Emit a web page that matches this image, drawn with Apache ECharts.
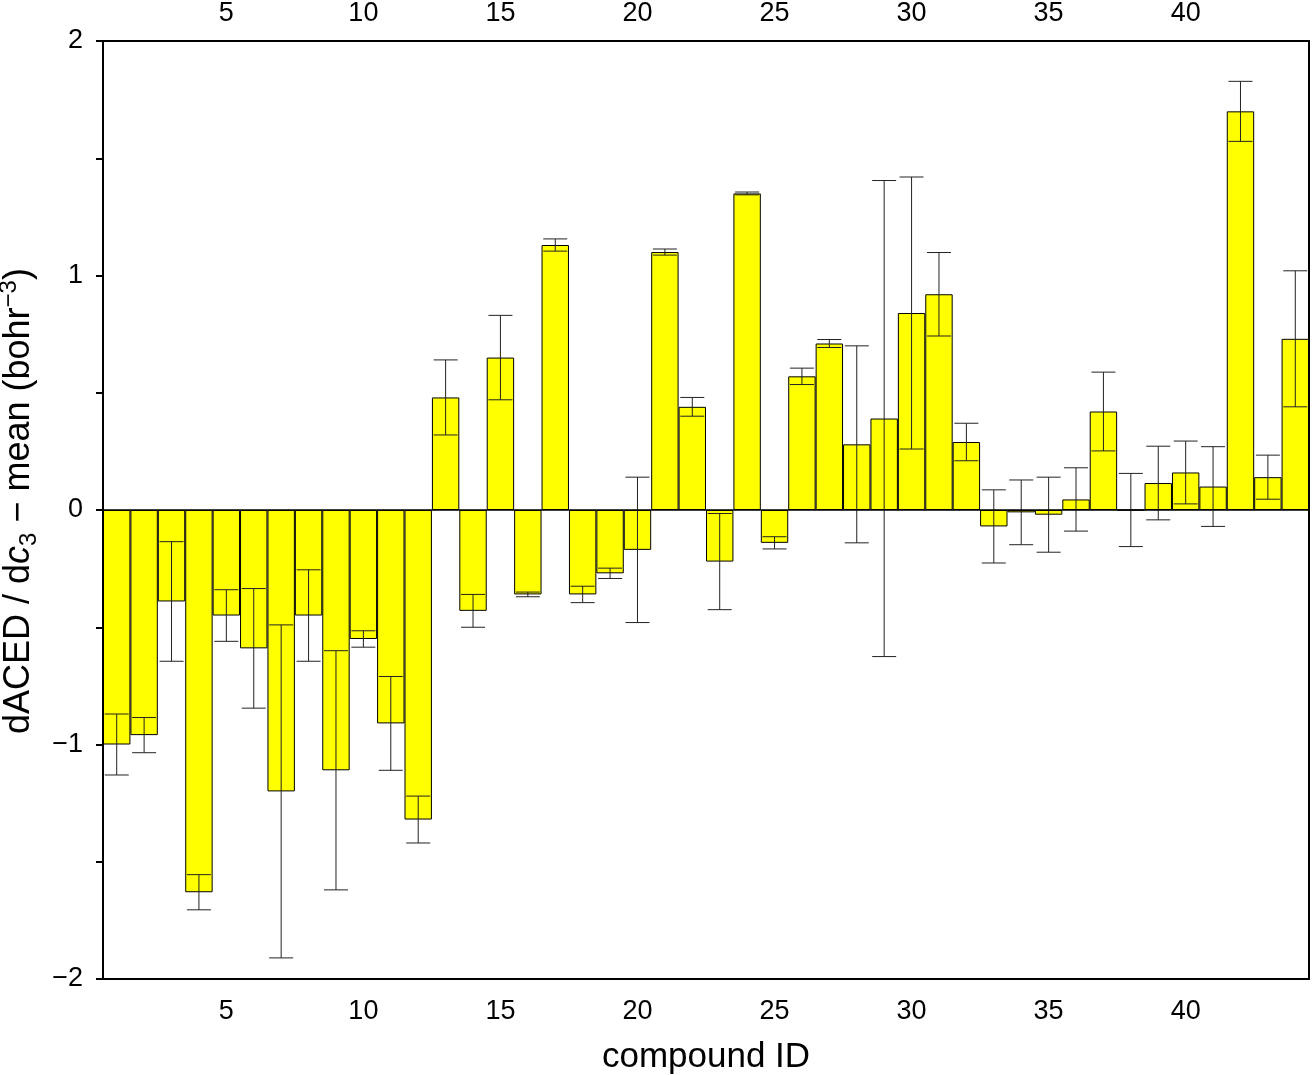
<!DOCTYPE html>
<html>
<head>
<meta charset="utf-8">
<script src="https://cdn.jsdelivr.net/npm/echarts@6/dist/echarts.min.js"></script>
<style>
  html, body { margin: 0; padding: 0; background: #fff; }
  #main { width: 1312px; height: 1075px; }
</style>
</head>
<body>
<div id="main"></div>
<script>
const FONT = '"Liberation Sans", Arial, Helvetica, sans-serif';

// compound IDs along the x axis
const compoundIds = [
    '1', '2', '3', '4', '5', '6', '7', '8', '9', '10',
    '11', '12', '13', '14', '15', '16', '17', '18', '19', '20',
    '21', '22', '23', '24', '25', '26', '27', '28', '29', '30',
    '31', '32', '33', '34', '35', '36', '37', '38', '39', '40',
    '41', '42', '43', '44'
];

// dACED / dc3 - mean
const meanValues = [
    -1.00, -0.96, -0.39, -1.63, -0.45, -0.59, -1.20, -0.45, -1.11, -0.55,
    -0.91, -1.32, 0.48, -0.43, 0.65, -0.36, 1.13, -0.36, -0.27, -0.17,
    1.10, 0.44, -0.22, 1.35, -0.14, 0.57, 0.71, 0.28, 0.39, 0.84,
    0.92, 0.29, -0.07, -0.01, -0.02, 0.045, 0.42, 0.00, 0.115, 0.16,
    0.10, 1.70, 0.14, 0.73
];

// half length of each error bar
const errValues = [
    0.13, 0.075, 0.255, 0.075, 0.11, 0.255, 0.71, 0.195, 0.51, 0.035,
    0.20, 0.10, 0.16, 0.07, 0.18, 0.01, 0.026, 0.035, 0.022, 0.31,
    0.013, 0.04, 0.205, 0.006, 0.026, 0.035, 0.017, 0.42, 1.015, 0.58,
    0.178, 0.08, 0.156, 0.138, 0.16, 0.135, 0.168, 0.156, 0.157, 0.134,
    0.17, 0.128, 0.094, 0.29
];

function fmtY(v) {
    // only integers get a label, the half steps are bare ticks
    if (Math.abs(v - Math.round(v)) > 1e-6) return '';
    return v < 0 ? '\u2212' + Math.abs(v) : String(v);
}

const every5 = (idx) => (idx + 1) % 5 === 0;

function errorBars(params, api) {
    const idx = api.value(0);
    const top = api.coord([idx, api.value(2)]);
    const bot = api.coord([idx, api.value(1)]);
    const hw = 12;
    const style = { stroke: '#222', lineWidth: 1 };
    return {
        type: 'group',
        children: [
            { type: 'line', shape: { x1: top[0], y1: top[1], x2: bot[0], y2: bot[1] }, style: style },
            { type: 'line', shape: { x1: top[0] - hw, y1: top[1], x2: top[0] + hw, y2: top[1] }, style: style },
            { type: 'line', shape: { x1: bot[0] - hw, y1: bot[1], x2: bot[0] + hw, y2: bot[1] }, style: style }
        ]
    };
}

function xAxisBase(position, margin) {
    return {
        type: 'category',
        data: compoundIds,
        position: position,
        boundaryGap: true,
        axisLine: { onZero: false, lineStyle: { color: '#000', width: 2 } },
        axisTick: { alignWithLabel: true, interval: every5, length: 7, lineStyle: { color: '#000', width: 2 } },
        axisLabel: { interval: every5, fontSize: 27, color: '#000', margin: margin, fontFamily: FONT },
        splitLine: { show: false }
    };
}

const bottomAxis = xAxisBase('bottom', 19);
bottomAxis.name = 'compound ID';
bottomAxis.nameLocation = 'middle';
bottomAxis.nameGap = 61;
bottomAxis.nameTextStyle = { fontSize: 35, color: '#000', fontFamily: FONT };

const errData = meanValues.map((v, i) => [i, v - errValues[i], v + errValues[i]]);

const myChart = echarts.init(document.getElementById('main'));

const option = {
    animation: false,
    backgroundColor: '#fff',
    grid: { left: 103, right: 3, top: 41, bottom: 96, containLabel: false, outerBoundsMode: 'none' },
    xAxis: [bottomAxis, xAxisBase('top', 14)],
    yAxis: [{
        type: 'value',
        min: -2,
        max: 2,
        interval: 0.5,
        position: 'left',
        axisLine: { show: true, onZero: false, lineStyle: { color: '#000', width: 2 } },
        axisTick: { show: true, length: 7, lineStyle: { color: '#000', width: 2 } },
        axisLabel: { formatter: fmtY, fontSize: 27, color: '#000', margin: 20, fontFamily: FONT },
        splitLine: { show: false },
        name: '{n|dACED / d}{i|c}{sub|3}{n| \u2212 mean (bohr}{sup|\u22123}{n|)}',
        nameLocation: 'middle',
        nameRotate: 90,
        nameGap: 51,
        nameTextStyle: {
            color: '#000',
            fontFamily: FONT,
            padding: [0, 0, 0, 18],
            rich: {
                n: { fontSize: 36, lineHeight: 44, fontFamily: FONT, color: '#000' },
                i: { fontSize: 36, lineHeight: 44, fontStyle: 'italic', fontFamily: FONT, color: '#000' },
                sub: { fontSize: 24, lineHeight: 24, verticalAlign: 'bottom', fontFamily: FONT, color: '#000' },
                sup: { fontSize: 24, lineHeight: 24, verticalAlign: 'top', fontFamily: FONT, color: '#000' }
            }
        }
    }, {
        type: 'value',
        min: -2,
        max: 2,
        position: 'right',
        axisLine: { show: true, onZero: false, lineStyle: { color: '#000', width: 2 } },
        axisTick: { show: false },
        axisLabel: { show: false },
        splitLine: { show: false }
    }],
    series: [{
        name: 'mean',
        type: 'bar',
        data: meanValues,
        barWidth: '100%',
        barCategoryGap: '0%',
        itemStyle: { color: '#ffff00', borderColor: '#000', borderWidth: 1 },
        markLine: {
            silent: true,
            symbol: ['none', 'none'],
            label: { show: false },
            lineStyle: { color: '#000', width: 1.5, type: 'solid' },
            data: [{ yAxis: 0 }]
        }
    }, {
        name: 'error',
        type: 'custom',
        renderItem: errorBars,
        encode: { x: 0, y: [1, 2] },
        data: errData,
        z: 3
    }]
};

myChart.setOption(option);
</script>
</body>
</html>
